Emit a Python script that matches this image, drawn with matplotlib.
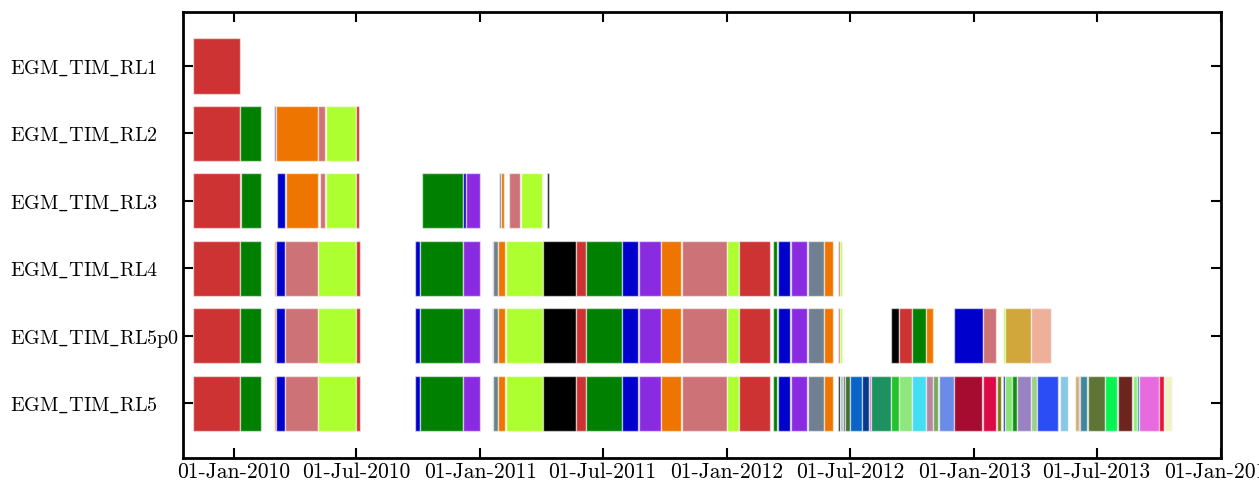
import matplotlib
matplotlib.use("Agg")
import matplotlib.pyplot as plt
import matplotlib.dates as mdates
import numpy as np

plt.rcParams['font.family'] = ['cmr10', 'DejaVu Serif']
plt.rcParams['mathtext.fontset'] = 'cm'
plt.rcParams['axes.formatter.use_mathtext'] = True

# colores
red = '#cd3333'
green = '#008000'
blue = '#0000cd'
orange = '#ee7600'
rosy = '#cd7377'
gyel = '#adff2f'
purple = '#8a2be2'
slate = '#708090'
black = '#000000'

models = ['EGM_TIM_RL5', 'EGM_TIM_RL5p0', 'EGM_TIM_RL4',
          'EGM_TIM_RL3', 'EGM_TIM_RL2', 'EGM_TIM_RL1']

# periodos comunes a RL4, RL5p0 y RL5
common_starts = ['2009-11-01', '2010-01-11', '2010-03-01', '2010-03-04', '2010-03-18',
                 '2010-05-05', '2010-07-01', '2010-09-26', '2010-10-04', '2010-12-06',
                 '2011-01-18', '2011-01-20', '2011-01-27', '2011-02-08', '2011-04-03',
                 '2011-05-23', '2011-06-07', '2011-07-30', '2011-08-24', '2011-09-26',
                 '2011-10-26', '2012-01-01', '2012-01-18', '2012-03-09', '2012-03-16',
                 '2012-04-04', '2012-04-30', '2012-05-23']
common_ends = ['2010-01-11', '2010-02-11', '2010-03-04', '2010-03-18', '2010-05-05',
               '2010-07-01', '2010-07-07', '2010-10-04', '2010-12-06', '2010-12-31',
               '2011-01-20', '2011-01-27', '2011-02-07', '2011-04-03', '2011-05-23',
               '2011-06-07', '2011-07-30', '2011-08-23', '2011-09-25', '2011-10-25',
               '2012-01-01', '2012-01-18', '2012-03-05', '2012-03-15', '2012-04-03',
               '2012-04-29', '2012-05-23', '2012-06-06']
common_colors_a = [red, green, '#f4a460', blue, rosy, gyel, red, blue, green, purple]
common_colors_b = [slate, orange, gyel, black, red, green, blue, purple, orange,
                   rosy, gyel, red, green, blue, purple, slate, orange]

rl1_starts = ['2009-11-01']
rl1_ends = ['2010-01-11']
rl1_colors = [red]

rl2_starts = ['2009-11-01', '2010-01-11', '2010-03-01', '2010-03-04', '2010-05-06',
              '2010-05-17', '2010-07-01']
rl2_ends = ['2010-01-11', '2010-02-11', '2010-03-04', '2010-05-05', '2010-05-16',
            '2010-07-01', '2010-07-05']
rl2_colors = [red, green, '#9370db', orange, rosy, gyel, red]

rl3_starts = ['2009-11-01', '2010-01-12', '2010-03-06', '2010-03-19', '2010-05-08',
              '2010-05-17', '2010-07-01', '2010-10-06', '2010-12-06', '2010-12-10',
              '2011-01-28', '2011-01-31', '2011-02-12', '2011-03-02', '2011-04-09']
rl3_ends = ['2010-01-11', '2010-02-11', '2010-03-18', '2010-05-05', '2010-05-16',
            '2010-07-01', '2010-07-05', '2010-12-06', '2010-12-10', '2010-12-31',
            '2011-01-31', '2011-02-05', '2011-02-28', '2011-04-02', '2011-04-13']
rl3_colors = [red, green, blue, orange, rosy, gyel, red, green, blue, purple,
              slate, orange, rosy, gyel, black]

rl4_starts = common_starts + ['2012-06-13', '2012-06-16']
rl4_ends = common_ends + ['2012-06-16', '2012-06-19']
rl4_colors = common_colors_a + ['#e8b4b4'] + common_colors_b + [rosy, gyel]

rl5p0_starts = common_starts + ['2012-06-13', '2012-06-16', '2012-08-31', '2012-09-11',
                                '2012-10-01', '2012-10-21', '2012-12-02', '2013-01-14',
                                '2013-02-13', '2013-02-16', '2013-03-26']
rl5p0_ends = common_ends + ['2012-06-16', '2012-06-19', '2012-09-11', '2012-10-01',
                            '2012-10-21', '2012-11-01', '2013-01-14', '2013-02-02',
                            '2013-02-16', '2013-03-26', '2013-04-24']
rl5p0_colors = common_colors_a + ['#b496b4'] + common_colors_b + \
    [rosy, gyel, black, red, green, orange, blue, rosy, gyel, '#d1a73c', '#eeb09a']

rl5_starts = common_starts + ['2012-06-13', '2012-06-16', '2012-06-20', '2012-06-24',
                              '2012-07-01', '2012-07-19', '2012-07-29', '2012-08-01',
                              '2012-08-31', '2012-09-11', '2012-10-01', '2012-10-21',
                              '2012-11-01', '2012-11-10', '2012-12-02', '2013-01-14',
                              '2013-02-03', '2013-02-12', '2013-02-16', '2013-02-25',
                              '2013-03-05', '2013-03-26', '2013-04-03', '2013-05-08',
                              '2013-05-30', '2013-06-05', '2013-06-07', '2013-06-18',
                              '2013-07-14', '2013-08-02', '2013-08-24', '2013-08-30',
                              '2013-09-02', '2013-10-02', '2013-10-09']
rl5_ends = common_ends + ['2012-06-16', '2012-06-20', '2012-06-24', '2012-07-01',
                          '2012-07-19', '2012-07-29', '2012-08-01', '2012-08-31',
                          '2012-09-11', '2012-10-01', '2012-10-21', '2012-11-01',
                          '2012-11-08', '2012-12-02', '2013-01-13', '2013-02-02',
                          '2013-02-10', '2013-02-15', '2013-02-25', '2013-03-05',
                          '2013-03-26', '2013-04-03', '2013-05-05', '2013-05-20',
                          '2013-06-05', '2013-06-07', '2013-06-17', '2013-07-14',
                          '2013-07-31', '2013-08-23', '2013-08-30', '2013-09-02',
                          '2013-10-01', '2013-10-08', '2013-10-21']
rl5_colors = common_colors_a + ['#a8f0a8'] + common_colors_b + \
    [black, '#a9c4c4', '#555f5f', '#3f7030', '#0a64c8', '#053a8c', '#e060c8', '#1e9160',
     '#22c22a', '#90e67e', '#44ddf2', '#b8869e', '#78a860', '#6a8ce8', '#a50c30',
     '#dc0a46', '#7a7a10', '#1010a0', '#84e474', '#109010', '#9982c2', '#9bd28a',
     '#2a4df5', '#88c8e2', '#cdaf7e', '#e03c1e', '#40869e', '#5f7535', '#06f552',
     '#6c251e', '#88f070', '#1890a8', '#e86adf', '#e8143c', '#f0f2c8']

rows = [(rl5_starts, rl5_ends, rl5_colors),
        (rl5p0_starts, rl5p0_ends, rl5p0_colors),
        (rl4_starts, rl4_ends, rl4_colors),
        (rl3_starts, rl3_ends, rl3_colors),
        (rl2_starts, rl2_ends, rl2_colors),
        (rl1_starts, rl1_ends, rl1_colors)]

fig = plt.figure(figsize=(12.59, 4.8), dpi=100)
ax = fig.add_axes([0.1454, 0.0458, 0.8244, 0.9292])

for i, (starts, ends, colors) in enumerate(rows):
    s = mdates.datestr2num(starts)
    e = mdates.datestr2num(ends)
    ax.barh(np.full(len(s), i), e - s, left=s, height=0.816, color=colors,
            edgecolor=(1, 1, 1, 0.55), linewidth=1.0)

# etiquetas con guion bajo real (cmr10 no lo tiene), alineadas a la izquierda
ax.set_yticks(range(len(models)))
ax.set_yticklabels([r'$\mathrm{' + m.replace('_', r'\_') + '}$' for m in models],
                   fontsize=14.5, ha='left')
ax.set_ylim(-0.81, 5.80)
ax.set_xlim(mdates.datestr2num('2009-10-18'), mdates.datestr2num('2014-01-01'))
ax.xaxis.set_major_locator(mdates.MonthLocator(bymonth=[1, 7]))
ax.xaxis.set_major_formatter(mdates.DateFormatter('%d-%b-%Y'))
ax.tick_params(axis='x', labelsize=15.5, pad=3)
ax.tick_params(direction='in', top=True, right=True, length=7, width=1.5)
ax.tick_params(axis='y', pad=124.5)
for sp in ax.spines.values():
    sp.set_linewidth(2)

fig.savefig('out.png', dpi=100)
